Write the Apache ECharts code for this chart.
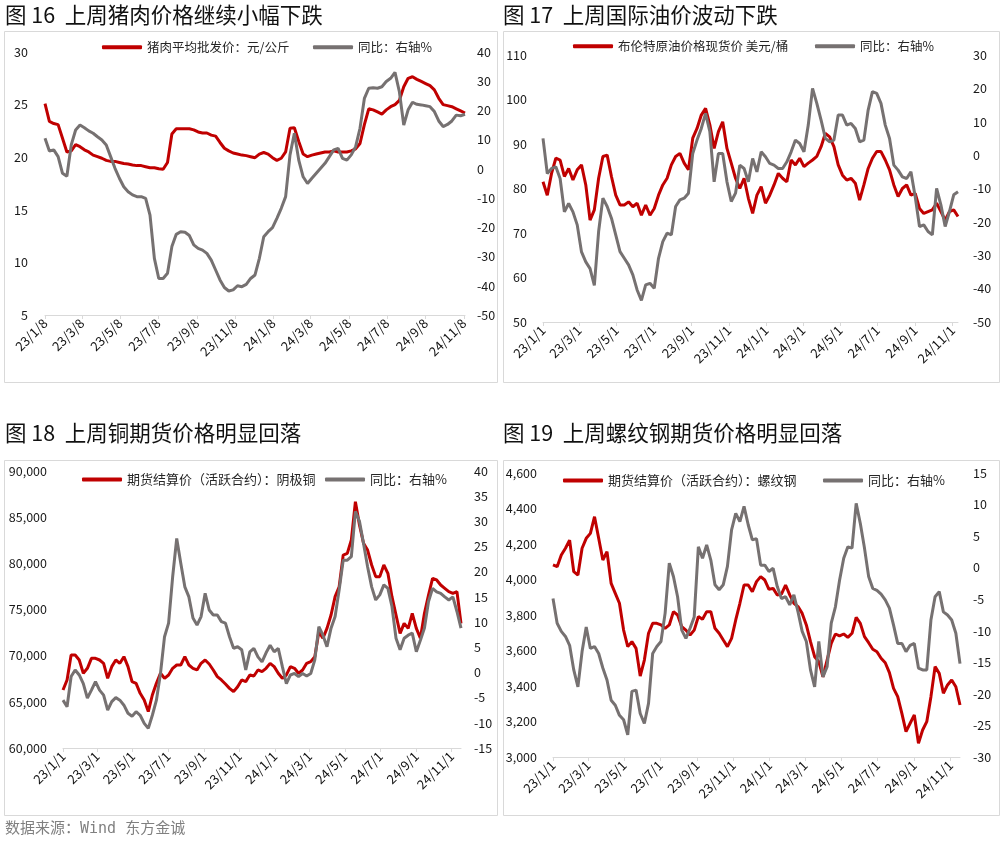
<!DOCTYPE html>
<html>
<head>
<meta charset="utf-8">
<script src="https://cdn.jsdelivr.net/npm/echarts@6/dist/echarts.min.js"></script>
<style>html,body{margin:0;padding:0;background:#fff}#c{width:1004px;height:847px}</style>
</head>
<body>
<div id="c"></div>
<script>
// ---------- data (weekly readings) ----------
const porkStart = '23/1/8';
const porkPrice = [25.1,23.4,23.2,23.1,21.8,20.5,20.6,21.2,21.0,20.7,
 20.5,20.2,20.05,19.9,19.7,19.6,19.6,19.5,19.4,19.35,
 19.26,19.2,19.2,19.1,19.0,19.0,18.9,18.85,19.5,22.2,
 22.7,22.7,22.7,22.7,22.6,22.4,22.3,22.3,22.1,22.0,
 21.4,20.85,20.6,20.4,20.3,20.2,20.15,20.05,19.95,20.3,
 20.45,20.3,19.95,19.7,19.9,20.5,22.75,22.8,21.5,20.3,
 20.05,20.2,20.3,20.4,20.5,20.5,20.6,20.5,20.5,20.5,
 20.6,20.8,21.3,23.1,24.6,24.5,24.3,24.1,24.5,24.8,
 25.0,25.4,26.7,27.5,27.65,27.4,27.2,27.0,26.8,26.4,
 25.6,25.0,24.9,24.8,24.6,24.4,24.2];
const porkYoy = [10.5,6.1,6.5,4.2,-1.5,-2.5,8.2,13.3,15.0,14.1,
 13.0,12.2,11.0,9.9,8.2,4.2,0.2,-3.2,-6.1,-7.8,
 -8.9,-9.5,-9.5,-10.1,-15.8,-30.6,-37.5,-37.5,-35.7,-26.6,
 -22.4,-21.5,-21.7,-22.8,-26.0,-27.2,-27.8,-28.9,-31.2,-34.6,
 -38.0,-40.6,-41.8,-41.4,-40.0,-40.3,-39.5,-37.5,-36.3,-30.6,
 -23.2,-21.5,-20.1,-16.9,-13.5,-9.5,4.8,12.2,3.0,-2.7,
 -5.0,-3.2,-1.5,0.2,1.9,4.2,6.5,7.0,3.6,3.0,
 4.8,7.6,13.9,24.1,27.6,27.8,27.6,28.1,29.9,31.0,
 33.0,26.4,15.0,20.2,22.8,22.1,21.9,21.6,21.3,19.6,
 16.4,14.5,15.2,16.4,18.4,18.2,18.7];

const brentStart = '23/1/1';
const brentPrice = [81.5,78.5,83.4,86.8,86.4,82.7,84.5,81.9,84.2,85.3,
 80.8,72.9,75.2,82.3,87.2,87.5,82.7,78.5,76.3,76.3,
 77.0,75.9,76.7,74.0,76.3,74.0,75.5,78.5,80.8,82.3,
 85.3,87.2,87.9,85.7,84.2,91.3,93.5,96.5,98.0,94.3,
 89.0,92.8,95.0,89.0,85.7,82.3,80.0,82.3,77.8,74.4,
 78.5,80.4,76.7,78.5,80.8,83.4,82.3,81.5,86.4,85.3,
 86.8,84.9,85.7,86.4,87.2,89.4,92.4,91.6,89.4,85.3,
 83.0,81.9,82.3,81.2,77.4,80.8,84.5,86.8,88.3,88.3,
 86.4,84.2,80.8,78.2,80.0,80.8,78.5,78.9,75.5,74.4,
 74.8,75.2,76.7,74.8,72.9,74.8,75.2,73.7];
const brentYoy = [5.0,-5.5,-4.0,-3.5,-7.0,-17.0,-14.5,-17.0,-20.9,-29.0,
 -32.0,-34.0,-39.0,-22.9,-12.9,-15.4,-18.9,-23.9,-28.9,-30.9,
 -32.9,-35.9,-40.4,-43.5,-38.9,-38.4,-39.9,-30.9,-25.9,-23.4,
 -23.9,-15.4,-13.4,-12.9,-11.4,0.5,4.5,8.0,12.5,7.0,
 -8.0,0.5,0.5,-8.0,-13.9,-11.4,-3.0,-4.0,-8.0,-1.0,
 -5.0,1.0,-0.5,-2.5,-3.0,-4.0,-4.0,-2.0,1.0,4.5,
 3.5,1.0,9.0,20.0,15.5,10.5,5.0,4.0,4.5,12.0,
 12.0,9.0,9.5,8.0,4.0,4.5,13.5,19.0,18.5,15.5,
 9.0,5.0,-3.0,-4.5,-6.5,-7.0,-5.0,-12.5,-21.4,-20.9,
 -22.9,-23.9,-10.0,-14.9,-21.4,-16.9,-11.9,-11.0];

const copperStart = '23/1/1';
const copperPrice = [66280,67370,70070,70070,69530,68090,68630,69710,69710,69530,
 69170,67550,68810,69530,69170,69890,68810,67190,67000,65920,
 65200,63940,65740,67000,68090,67550,67910,68630,68990,68990,
 69890,68990,68630,68450,69170,69530,69100,68450,67730,67370,
 66930,66460,66100,66640,67370,67190,67910,67800,68450,68270,
 68630,69170,68810,68090,67550,67910,68810,68630,68090,68450,
 69170,69350,69890,72600,71880,72960,74400,76390,77470,80900,
 81080,82530,86680,84150,82170,81440,79820,78560,78560,79820,
 78920,76390,74400,72420,73500,72960,74590,72960,71880,74590,
 76570,78380,78200,77650,77290,76930,76750,76930,73500];
const copperYoy = [-5.5,-6.8,-0.8,0.5,-0.5,-2.2,-5.1,-3.5,-1.8,-3.5,
 -4.5,-7.5,-5.8,-5.0,-5.5,-6.5,-8.1,-8.7,-7.8,-8.5,
 -10.1,-11.1,-8.5,-5.5,-0.2,7.1,9.8,19.0,26.6,21.7,
 17.0,15.0,10.8,9.4,11.1,15.7,12.4,11.4,11.4,10.1,
 9.8,7.1,4.8,5.1,4.5,0.5,4.1,4.8,3.1,2.1,
 3.9,5.4,4.1,4.8,1.2,-2.2,-0.5,-0.2,-0.8,-0.2,
 -0.7,-0.2,2.5,9.1,7.4,5.1,8.8,11.1,16.4,22.3,
 22.3,23.0,32.0,30.0,25.6,21.0,17.0,14.4,15.4,17.4,
 16.7,13.1,6.8,4.5,6.8,7.4,7.8,4.1,6.4,8.8,
 14.1,16.7,16.0,15.7,15.0,14.4,15.0,12.1,8.8];

const rebarStart = '23/1/1';
const rebarPrice = [4082,4072,4138,4176,4222,4044,4025,4176,4232,4260,
 4354,4232,4110,4157,3978,3922,3866,3715,3622,3650,
 3612,3456,3546,3697,3753,3753,3744,3725,3744,3819,
 3800,3734,3715,3687,3715,3791,3776,3819,3819,3725,
 3697,3659,3622,3668,3772,3866,3969,3969,3931,3988,
 4016,3997,3945,3950,3913,3918,3969,3913,3866,3847,
 3809,3744,3650,3565,3537,3452,3546,3640,3693,3682,
 3693,3674,3697,3787,3753,3678,3644,3607,3593,3556,
 3531,3475,3387,3340,3246,3143,3190,3237,3077,3152,
 3199,3340,3509,3471,3359,3406,3434,3396,3293];
const rebarYoy = [-4.9,-8.8,-10.1,-10.9,-12.3,-16.2,-18.9,-13.3,-9.4,-12.8,
 -12.5,-13.6,-15.9,-17.8,-21.0,-21.8,-23.4,-24.1,-26.5,-19.6,
 -19.4,-23.1,-24.7,-21.5,-13.6,-12.5,-11.7,-7.2,0.7,-1.4,
 -4.6,-9.9,-11.2,-9.6,-7.8,3.3,1.5,3.6,1.2,-2.7,
 -3.5,-2.7,0.2,6.0,8.6,7.3,9.7,6.8,4.4,4.6,
 0.4,0.4,-0.6,-0.1,-3.0,-4.9,-4.6,-5.9,-4.3,-7.0,
 -10.1,-11.7,-16.2,-18.9,-11.7,-17.3,-15.7,-8.8,-6.2,-2.0,
 1.5,3.3,3.1,10.2,7.0,3.1,-1.4,-3.3,-3.6,-4.2,
 -5.1,-6.4,-9.1,-12.0,-12.0,-13.3,-12.3,-12.0,-15.9,-16.2,
 -16.2,-8.3,-4.6,-3.8,-7.0,-7.5,-8.3,-10.4,-15.2];

// tick labels
const ticksPork = ['23/1/8','23/3/8','23/5/8','23/7/8','23/9/8','23/11/8','24/1/8','24/3/8','24/5/8','24/7/8','24/9/8','24/11/8'];
const ticksFirst = ['23/1/1','23/3/1','23/5/1','23/7/1','23/9/1','23/11/1','24/1/1','24/3/1','24/5/1','24/7/1','24/9/1','24/11/1'];

// texts
const titles = ['图 16  上周猪肉价格继续小幅下跌','图 17  上周国际油价波动下跌','图 18  上周铜期货价格明显回落','图 19  上周螺纹钢期货价格明显回落'];
const redNames = ['猪肉平均批发价：元/公斤','布伦特原油价格现货价 美元/桶','期货结算价（活跃合约）：阴极铜','期货结算价（活跃合约）：螺纹钢'];
const greyName = '同比：右轴%';
const sourceText = '数据来源：Wind 东方金诚';

// ---------- helpers ----------
const FONT = '"Noto Sans CJK SC","Noto Sans",sans-serif';
const RED = '#C00000', GREY = '#767171';
function parseD(s){const p=s.split('/').map(Number);return new Date(2000+p[0],p[1]-1,p[2]).getTime();}
function fmtD(t){const d=new Date(Math.round(t));return (d.getFullYear()-2000)+'/'+(d.getMonth()+1)+'/'+d.getDate();}
function weekly(startStr, vals){const s=parseD(startStr);return vals.map((v,i)=>[s+i*7*86400000, v]);}
function thousands(v){return String(v).replace(/\B(?=(\d{3})+(?!\d))/g, ',');}

const panels = [
 {box:[4,31,493,351], titlePos:[5,15], grid:[45,52,420,263], start:porkStart, ticks:ticksPork,
  vals:[porkPrice,porkYoy], L:[5,30,5], R:[-50,40,10], lfmt:null, lm:17, rm:12,
  leg:[[102,41],[313,41]], lfs:12.5},
 {box:[503,31,496,351], titlePos:[503,15], grid:[543,55,415,267], start:brentStart, ticks:ticksFirst,
  vals:[brentPrice,brentYoy], L:[50,110,10], R:[-50,30,10], lfmt:null, lm:16, rm:15,
  leg:[[573,40],[815,40]], lfs:12.5},
 {box:[4,460,493,355], titlePos:[5,433], grid:[63,471,398,277], start:copperStart, ticks:ticksFirst,
  vals:[copperPrice,copperYoy], L:[60000,90000,5000], R:[-15,40,5], lfmt:thousands, lm:16, rm:13,
  leg:[[82,473],[325,473]], lfs:13},
 {box:[503,460,496,355], titlePos:[503,433], grid:[553,473,407,284], start:rebarStart, ticks:ticksFirst,
  vals:[rebarPrice,rebarYoy], L:[3000,4600,200], R:[-30,15,5], lfmt:thousands, lm:16, rm:13,
  leg:[[563,474],[823,474]], lfs:13}
];

const option = {
  animation:false, backgroundColor:'#fff', textStyle:{fontFamily:FONT},
  grid:[], xAxis:[], yAxis:[], series:[], legend:[], graphic:[]
};

panels.forEach((p,k)=>{
  const tv = p.ticks.map(parseD);
  const d0 = weekly(p.start, p.vals[0]);
  const d1 = weekly(p.start, p.vals[1]);
  option.grid.push({left:p.grid[0], top:p.grid[1], width:p.grid[2], height:p.grid[3]});
  option.xAxis.push({type:'value', gridIndex:k, min:d0[0][0], max:d0[d0.length-1][0], scale:true,
    axisLine:{show:true, onZero:false, lineStyle:{color:'#d9d9d9', width:1}},
    axisTick:{show:true, customValues:tv, length:4, lineStyle:{color:'#d9d9d9'}},
    axisLabel:{show:true, customValues:tv, rotate:45, formatter:v=>fmtD(v), fontSize:13, color:'#111', margin:6, fontFamily:FONT},
    splitLine:{show:false}, minorTick:{show:false}});
  const yl = {show:false};
  option.yAxis.push({type:'value', gridIndex:k, position:'left', min:p.L[0], max:p.L[1], interval:p.L[2],
    axisLine:yl, axisTick:yl, splitLine:yl,
    axisLabel:{fontSize:12.5, color:'#1a1a1a', margin:p.lm, fontFamily:FONT, formatter:p.lfmt||(v=>String(v))}});
  option.yAxis.push({type:'value', gridIndex:k, position:'right', min:p.R[0], max:p.R[1], interval:p.R[2],
    axisLine:yl, axisTick:yl, splitLine:yl,
    axisLabel:{fontSize:12.5, color:'#1a1a1a', margin:p.rm, fontFamily:FONT}});
  option.series.push({type:'line', name:redNames[k], xAxisIndex:k, yAxisIndex:2*k, data:d0,
    showSymbol:false, symbol:'none', color:RED, lineStyle:{width:3, color:RED}, itemStyle:{color:RED}, z:2});
  option.series.push({type:'line', name:greyName, xAxisIndex:k, yAxisIndex:2*k+1, data:d1,
    showSymbol:false, symbol:'none', color:GREY, lineStyle:{width:3, color:GREY}, itemStyle:{color:GREY}, z:3});
  [redNames[k], greyName].forEach((nm,j)=>{
    option.legend.push({data:[{name:nm, itemStyle:{color:j?GREY:RED}}], left:p.leg[j][0], top:p.leg[j][1], padding:0,
      itemWidth:40, itemHeight:4, icon:'roundRect', selectedMode:false,
      textStyle:{fontSize:p.lfs, color:'#262626', fontFamily:FONT}});
  });
  option.graphic.push({type:'rect', silent:true, shape:{x:p.box[0]+0.5, y:p.box[1]+0.5, width:p.box[2], height:p.box[3]},
    style:{fill:'none', stroke:'#d9d9d9', lineWidth:1}});
  option.graphic.push({type:'text', silent:true, x:p.titlePos[0], y:p.titlePos[1],
    style:{text:titles[k], fill:'#111', font:'21.5px '+FONT, textVerticalAlign:'middle'}});
});
option.graphic.push({type:'text', silent:true, x:5, y:829,
  style:{text:sourceText, fill:'#808080', font:'15px "DejaVu Sans Mono","Noto Sans CJK SC",monospace', textVerticalAlign:'middle'}});

const chart = echarts.init(document.getElementById('c'), null, {renderer:'canvas'});
chart.setOption(option);
</script>
</body>
</html>
